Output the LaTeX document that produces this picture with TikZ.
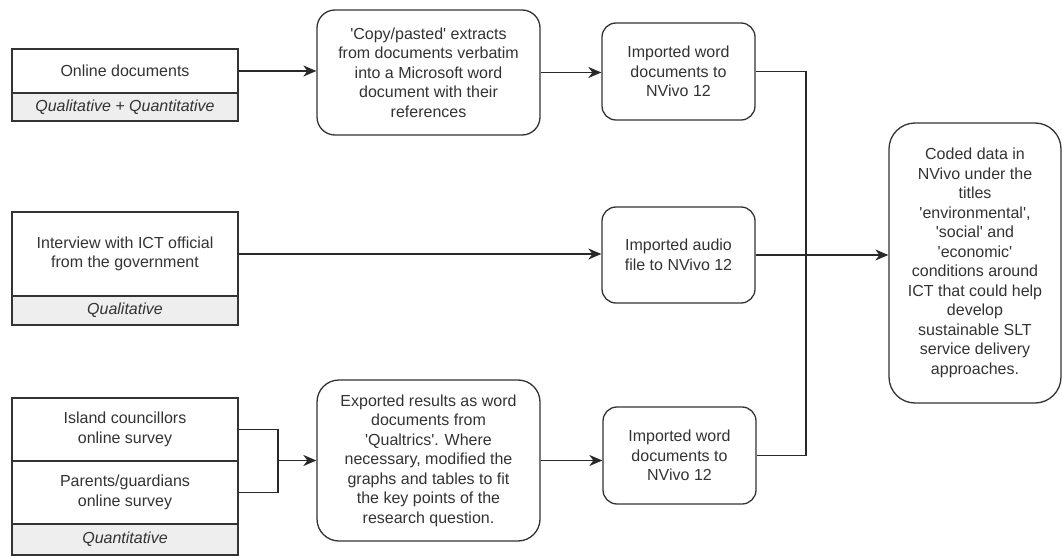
\documentclass[tikz,border=0pt]{standalone}
\usepackage{fontspec}
\newfontfamily\lsans{Liberation Sans}
\usetikzlibrary{arrows.meta,calc}
\definecolor{ink}{HTML}{333333}
\definecolor{cellgray}{HTML}{EEEEEE}
\begin{document}
\begin{tikzpicture}[x=1pt,y=-1pt,
  every node/.style={font=\lsans\fontsize{16}{19.5}\selectfont, text=ink, align=center, inner sep=0pt},
  cell/.style={draw=ink, line width=1.3pt, fill=white, minimum width=226pt},
  graycell/.style={cell, fill=cellgray, font=\lsans\fontsize{16}{19.5}\selectfont\itshape},
  rbox/.style={draw=ink, line width=1.3pt, fill=white},
  conn/.style={draw=ink!80!black, line width=1.3pt},
  arr/.style={conn, -{Stealth[length=13pt,width=11pt,inset=4pt]}}
]
\path[use as bounding box] (0,0) rectangle (1062,556);

% left source boxes
\node[cell, minimum height=44pt] (on) at (125,71) {Online documents};
\node[graycell, minimum height=28pt] (onq) at (125,107) {Qualitative + Quantitative};

\node[cell, minimum height=84pt] (iv) at (125,254) {Interview with ICT official\\from the government};
\node[graycell, minimum height=29pt] (ivq) at (125,310.5) {Qualitative};

\node[cell, minimum height=63pt] (s1) at (125,429.5) {Island councillors\\ online survey};
\node[cell, minimum height=63pt] (s2) at (125,492.5) {Parents/guardians\\ online survey};
\node[graycell, minimum height=31pt] (sq) at (125,539.5) {Quantitative};

% processing boxes
\node[rbox, rounded corners=18pt, minimum width=223pt, minimum height=125pt] (cp) at (428.5,72.5)
  {'Copy/pasted' extracts\\from documents verbatim\\into a Microsoft word\\document with their\\references};
\node[rbox, rounded corners=22pt, minimum width=223pt, minimum height=161pt] (ex) at (428.5,460.5)
  {Exported results as word\\documents from\\'Qualtrics'. Where\\necessary, modified the\\graphs and tables to fit\\the key points of the\\research question.};

% imported boxes
\node[rbox, rounded corners=14pt, minimum width=153pt, minimum height=97pt] (w1) at (678.5,71.5)
  {Imported word\\documents to\\NVivo 12};
\node[rbox, rounded corners=14pt, minimum width=153pt, minimum height=96pt] (au) at (678.5,255)
  {Imported audio\\file to NVivo 12};
\node[rbox, rounded corners=14pt, minimum width=153pt, minimum height=97pt] (w3) at (679.5,455.5)
  {Imported word\\documents to\\NVivo 12};

% final box
\node[rbox, rounded corners=26pt, minimum width=172pt, minimum height=280pt] (fin) at (975,263)
  {Coded data in\\NVivo under the\\titles\\'environmental',\\'social' and\\'economic'\\conditions around\\ICT that could help\\develop\\sustainable SLT\\service delivery\\approaches.};

% connectors
\draw[arr] (on.east) -- (cp.west |- on.east);
\draw[arr] (cp.east) -- (w1.west |- cp.east);
\draw[arr] (iv.east) -- (au.west |- iv.east);

\coordinate (join) at (278,460.5);
\draw[conn] (s1.east) -| (join);
\draw[conn] (s2.east) -| (join);
\draw[arr] (join) -- (ex.west);
\draw[arr] (ex.east) -- (w3.west |- ex.east);

\coordinate (busT) at (806,71.5);
\coordinate (busB) at (806,455.5);
\draw[conn] (w1.east) -- (busT) -- (busB) -- (w3.east);
\draw[arr] (au.east) -- (fin.west |- au.east);
\end{tikzpicture}
\end{document}
